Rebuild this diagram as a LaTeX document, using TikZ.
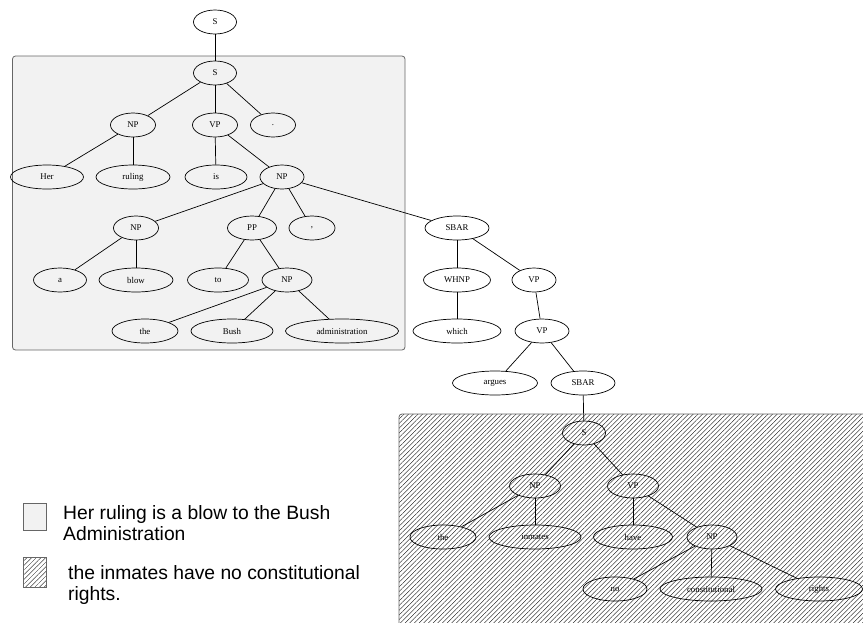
\documentclass[tikz,border=0pt]{standalone}
\usepackage{fontspec}
\setmainfont{Liberation Serif}
\newfontfamily\legendfont{Liberation Sans}
\usetikzlibrary{shapes.geometric,patterns.meta}
\begin{document}
\begin{tikzpicture}[x=1pt,y=-1pt,
  tn/.style={ellipse,draw,line width=0.7pt,inner sep=0pt,minimum height=24pt,minimum width=#1,font=\fontsize{8.8}{9}\selectfont},
  tn/.default=44pt,
  edge/.style={line width=0.7pt},
  grayregion/.style={draw=black!60,line width=0.8pt,rounded corners=3pt,fill=black!5},
  hatchregion/.style={draw=black!60,line width=0.8pt,rounded corners=3pt,pattern={Lines[angle=45,distance=3.3pt,line width=0.35pt]}},
  legendtext/.style={anchor=west,align=left,font=\legendfont\fontsize{19.3}{21.5}\selectfont,inner sep=0pt}]
\useasboundingbox (0,0) rectangle (863,622);
\clip (0,0) rectangle (863,622);
% regions
\path[grayregion] (12.5,56) rectangle (405,350);
\path[hatchregion] (399,414) rectangle (880,640);
% nodes
\node[tn=43pt] (s0) at (215,22) {S};
\node[tn=43pt] (s1) at (215,73) {S};
\node[tn=45pt] (np1) at (133,125) {NP};
\node[tn=45pt] (vp1) at (215,125) {VP};
\node[tn=45pt] (dot) at (273,125) {.};
\node[tn=73pt] (her) at (47,177) {Her};
\node[tn=74pt] (ruling) at (133,177) {ruling};
\node[tn=62pt] (is) at (216,177) {is};
\node[tn=44pt] (np2) at (282,177) {NP};
\node[tn=45pt] (np3) at (136,228) {NP};
\node[tn=49pt] (pp) at (252,228) {PP};
\node[tn=46pt] (comma) at (312,228) {,};
\node[tn=64pt] (sbar1) at (457,228) {SBAR};
\node[tn=53pt] (a) at (60,280) {a};
\node[tn=74pt] (blow) at (136,280) {blow};
\node[tn=61pt] (to) at (218,280) {to};
\node[tn=50pt] (np4) at (287,280) {NP};
\node[tn=67pt] (whnp) at (457,280) {WHNP};
\node[tn=44pt] (vp2) at (534,280) {VP};
\node[tn=66pt] (the1) at (145,331) {the};
\node[tn=82pt] (bush) at (232,331) {Bush};
\node[tn=113pt] (admin) at (342,331) {administration};
\node[tn=88pt] (which) at (457,331) {which};
\node[tn=54pt] (vp3) at (542,331) {VP};
\node[tn=85pt] (argues) at (495,383) {argues};
\node[tn=64pt] (sbar2) at (583,383) {SBAR};
\node[tn=43pt] (s2) at (584,433) {S};
\node[tn=51pt] (np5) at (535,486) {NP};
\node[tn=51pt] (vp4) at (633,486) {VP};
\node[tn=66pt] (the2) at (443,537) {the};
\node[tn=92pt] (inmates) at (535,537) {inmates};
\node[tn=79pt] (have) at (633,537) {have};
\node[tn=50pt] (np6) at (712,537) {NP};
\node[tn=64pt] (no) at (615,589) {no};
\node[tn=102pt] (const) at (711,589) {constitutional};
\node[tn=87pt] (rights) at (819,589) {rights};
% edges
\foreach \p/\c in {s0/s1,s1/np1,s1/vp1,s1/dot,np1/her,np1/ruling,vp1/is,vp1/np2,
  np2/np3,np2/pp,np2/comma,np2/sbar1,np3/a,np3/blow,pp/to,pp/np4,np4/the1,np4/bush,np4/admin,
  sbar1/whnp,sbar1/vp2,whnp/which,vp2/vp3,vp3/argues,vp3/sbar2,sbar2/s2,
  s2/np5,s2/vp4,np5/the2,np5/inmates,vp4/have,vp4/np6,np6/no,np6/const,np6/rights}
  \draw[edge] (\p) -- (\c);
% legend
\path[draw=black!60,line width=0.8pt,fill=black!5] (23,503) rectangle (46,530);
\path[draw=black!60,line width=0.8pt,pattern={Lines[angle=45,distance=3.3pt,line width=0.35pt]}] (23,557) rectangle (46,587);
\node[legendtext] (leg1) at (63,523) {Her ruling is a blow to the Bush\\Administration};
\node[legendtext] (leg2) at (68,585) {the inmates have no constitutional\\rights.};
\end{tikzpicture}
\end{document}
